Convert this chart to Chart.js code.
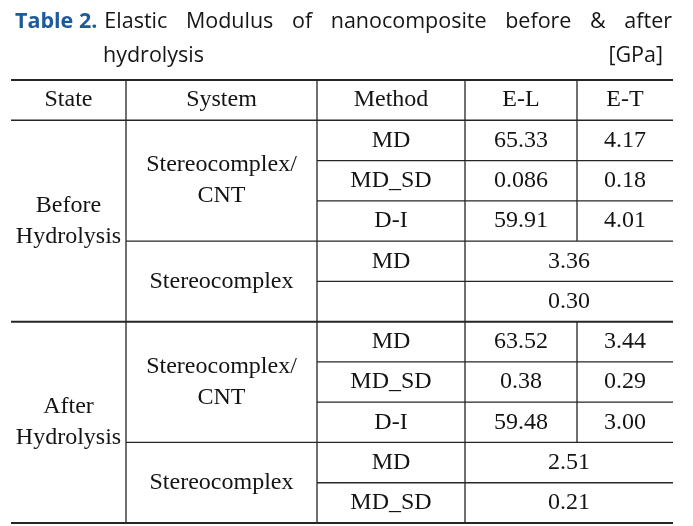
<!DOCTYPE html>
<html>
<head>
<meta charset="utf-8">
<script src="https://cdn.jsdelivr.net/npm/chart.js@4/dist/chart.umd.min.js"></script>
<style>
  html, body { margin: 0; padding: 0; background: #fff; }
  #wrap { position: relative; width: 693px; height: 526px; overflow: hidden; }
  #table-chart { position: absolute; left: 0; top: 0; }
  #caption {
    position: absolute; left: 15px; top: 3px; width: 657px;
    font-family: "Open Sans", sans-serif; font-size: 21.5px; line-height: 34px; color: #161616;
  }
  #caption .row1 { display: flex; }
  #caption .lbl { color: #1d5a9c; font-weight: 700; margin-right: 7px; white-space: nowrap; }
  #caption .just { flex: 1; text-align: justify; text-align-last: justify; }
  #caption .row2 { display: flex; justify-content: space-between; padding-left: 88px; padding-right: 9px; }
</style>
</head>
<body>
<div id="wrap">
  <canvas id="table-chart" width="693" height="526"></canvas>
  <div id="caption">
    <div class="row1"><span class="lbl">Table 2.</span><span class="just">Elastic Modulus of nanocomposite before &amp; after</span></div>
    <div class="row2"><span>hydrolysis</span><span>[GPa]</span></div>
  </div>
</div>
<script>
// ───── Table data ───────────────────────────────────────────────────────────
const headers = ['State', 'System', 'Method', 'E-L', 'E-T'];
const states = ['Before\nHydrolysis', 'After\nHydrolysis'];
const systems = ['Stereocomplex/\nCNT', 'Stereocomplex'];
const cntMethods = ['MD', 'MD_SD', 'D-I'];
const scMethods = [['MD', ''], ['MD', 'MD_SD']];

// Values kept as printed (trailing zeros matter).
const cntEL = [['65.33', '0.086', '59.91'], ['63.52', '0.38', '59.48']];
const cntET = [['4.17', '0.18', '4.01'], ['3.44', '0.29', '3.00']];
const scE = [['3.36', '0.30'], ['2.51', '0.21']];

// ───── Layout ───────────────────────────────────────────────────────────────
// Column edges in canvas x units, rows are 0..11 on the y scale.
const colEdges = [11, 126, 317, 465, 577, 673];
const ROWS = 11;
const INK = '#262626';
const FONT = '24px "Liberation Serif", "DejaVu Serif", serif';
const LINE_H = 31;

// Build the table cells (column span, row span, text).
const cells = [];
headers.forEach((h, i) => cells.push({ c0: i, c1: i + 1, r0: 0, r1: 1, text: h }));
states.forEach((state, b) => {
  const s = 1 + b * 5;
  cells.push({ c0: 0, c1: 1, r0: s, r1: s + 5, text: state });
  cells.push({ c0: 1, c1: 2, r0: s, r1: s + 3, text: systems[0] });
  cells.push({ c0: 1, c1: 2, r0: s + 3, r1: s + 5, text: systems[1] });
  cntMethods.forEach((m, k) => {
    cells.push({ c0: 2, c1: 3, r0: s + k, r1: s + k + 1, text: m });
    cells.push({ c0: 3, c1: 4, r0: s + k, r1: s + k + 1, text: cntEL[b][k] });
    cells.push({ c0: 4, c1: 5, r0: s + k, r1: s + k + 1, text: cntET[b][k] });
  });
  scMethods[b].forEach((m, k) => {
    cells.push({ c0: 2, c1: 3, r0: s + 3 + k, r1: s + 4 + k, text: m });
    cells.push({ c0: 3, c1: 5, r0: s + 3 + k, r1: s + 4 + k, text: scE[b][k] });
  });
});

// Build the rules as line datasets.
const rules = [];
const hRule = (row, fromCol, width) => rules.push({
  data: [{ x: colEdges[fromCol], y: row }, { x: colEdges[5], y: row }], width,
});
const vRule = (col, r0, r1) => rules.push({
  data: [{ x: colEdges[col], y: r0 }, { x: colEdges[col], y: r1 }], width: 1.3,
});
hRule(0, 0, 2);
hRule(1, 0, 1.3);
states.forEach((_, b) => {
  const s = 1 + b * 5;
  hRule(s + 1, 2, 1.3);
  hRule(s + 2, 2, 1.3);
  hRule(s + 3, 1, 1.3);
  hRule(s + 4, 2, 1.3);
  hRule(s + 5, 0, 2);
});
[1, 2, 3].forEach((c) => vRule(c, 0, ROWS));
vRule(4, 0, 4);
vRule(4, 6, 9);

// Draw cell text through the chart's own scales.
const cellText = {
  id: 'cellText',
  afterDatasetsDraw(chart) {
    const { ctx, scales: { x, y } } = chart;
    ctx.save();
    ctx.font = FONT;
    ctx.fillStyle = '#141414';
    ctx.textAlign = 'center';
    ctx.textBaseline = 'middle';
    cells.forEach((cell) => {
      if (!cell.text) return;
      const cx = (x.getPixelForValue(colEdges[cell.c0]) + x.getPixelForValue(colEdges[cell.c1])) / 2;
      const cy = (y.getPixelForValue(cell.r0) + y.getPixelForValue(cell.r1)) / 2;
      const lines = cell.text.split('\n');
      lines.forEach((line, i) => {
        ctx.fillText(line, cx, cy + (i - (lines.length - 1) / 2) * LINE_H);
      });
    });
    ctx.restore();
  },
};

new Chart(document.getElementById('table-chart'), {
  type: 'scatter',
  data: {
    datasets: rules.map((r) => ({
      data: r.data,
      showLine: true,
      borderColor: INK,
      borderWidth: r.width,
      pointRadius: 0,
      clip: false,
    })),
  },
  options: {
    responsive: false,
    animation: false,
    events: [],
    layout: { padding: { top: 80, bottom: 3, left: 0, right: 0 } },
    scales: {
      x: { type: 'linear', min: 0, max: 693, display: false },
      y: { type: 'linear', min: 0, max: ROWS, reverse: true, display: false },
    },
    plugins: {
      legend: { display: false },
      tooltip: { enabled: false },
    },
  },
  plugins: [cellText],
});
</script>
</body>
</html>
